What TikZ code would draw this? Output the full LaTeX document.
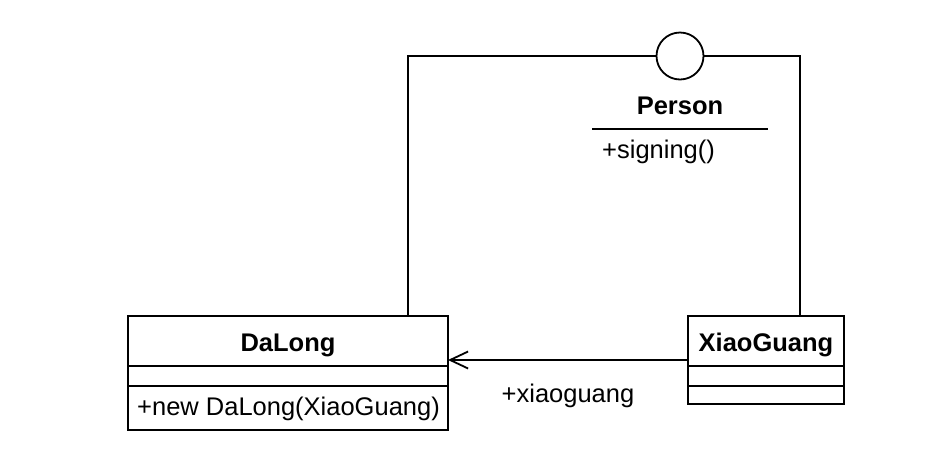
\documentclass[tikz,border=0pt]{standalone}
\usepackage{fontspec}
\setmainfont{Liberation Sans}
\usetikzlibrary{arrows.meta}
\begin{document}
\begin{tikzpicture}[x=1pt,y=-1pt,
  umlline/.style={line width=1.8pt},
  classbox/.style={draw,umlline,rectangle,inner sep=0pt,outer sep=0pt},
  txt/.style={font=\fontsize{25.5}{30}\selectfont,inner sep=0pt},
  btxt/.style={font=\fontsize{25.5}{30}\selectfont\bfseries,inner sep=0pt}]
\useasboundingbox (0,0) rectangle (952,448);
% classes
\node[classbox,minimum width=320pt,minimum height=114pt] (dalong) at (288,373) {};
\node[classbox,minimum width=156pt,minimum height=88pt] (xg) at (766,360) {};
\node[draw,umlline,circle,minimum size=47pt,inner sep=0pt,outer sep=0pt,fill=white] (iface) at (680,56) {};
% compartments
\draw[umlline] ([yshift=-50pt]dalong.north west) -- ([yshift=-50pt]dalong.north east);
\draw[umlline] ([yshift=-70pt]dalong.north west) -- ([yshift=-70pt]dalong.north east);
\draw[umlline] ([yshift=-50pt]xg.north west) -- ([yshift=-50pt]xg.north east);
\draw[umlline] ([yshift=-70pt]xg.north west) -- ([yshift=-70pt]xg.north east);
% texts
\node[btxt,anchor=base] (dname) at (288,351) {DaLong};
\node[txt,anchor=base west] (dmeth) at (137,415) {+new DaLong(XiaoGuang)};
\node[btxt,anchor=base] (xname) at (766,351) {XiaoGuang};
\node[btxt,anchor=base] (pname) at (680,114) {Person};
\coordinate (pl) at (592,129);
\coordinate (pr) at (768,129);
\draw[umlline] (pl) -- (pr);
\node[txt,anchor=base west] (pmeth) at (602,158) {+signing()};
% realization lines
\draw[umlline] ([xshift=280pt]dalong.north west) |- (iface.west);
\draw[umlline] ([xshift=-44pt]xg.north east) |- (iface.east);
% dependency
\draw[line width=1.8pt,-{Straight Barb[length=18pt,width=17pt,line width=1.8pt]}] (xg.west) -- (xg.west -| dalong.east);
\node[txt,anchor=base] (lbl) at (568,402) {+xiaoguang};
\end{tikzpicture}
\end{document}
